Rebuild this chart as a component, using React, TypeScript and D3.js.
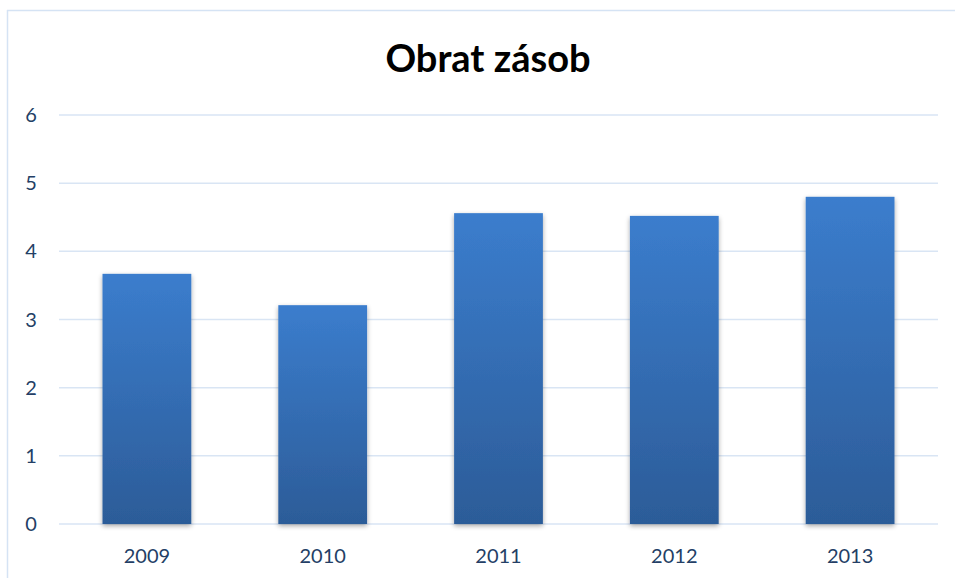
import React from "react";
import * as d3 from "d3";

const categories = ["2009", "2010", "2011", "2012", "2013"];
const values = [3.67, 3.21, 4.56, 4.52, 4.8];
const yTicks = [0, 1, 2, 3, 4, 5, 6];
const title = "Obrat zásob";

export default function App() {
  const W = 955, H = 578;
  const left = 59, right = 938, top = 115, bottom = 524;
  const x = d3.scaleBand<string>().domain(categories).range([left, right]).paddingInner(0.495).paddingOuter(0.2475);
  const y = d3.scaleLinear().domain([0, 6]).range([bottom, top]);
  const font = "Lato, 'Open Sans', sans-serif";
  return (
    <svg width={W} height={H} style={{ position: "absolute", left: 0, top: 0, background: "#fff" }}>
      <defs>
        <linearGradient id="bg" x1="0" y1="0" x2="0" y2="1">
          <stop offset="0%" stopColor="#3b7dcd" />
          <stop offset="100%" stopColor="#2c5c98" />
        </linearGradient>
        <filter id="sh" x="-20%" y="-20%" width="140%" height="140%">
          <feGaussianBlur in="SourceAlpha" stdDeviation="2.5" />
          <feOffset dx="0" dy="2" result="b" />
          <feComponentTransfer><feFuncA type="linear" slope="0.35" /></feComponentTransfer>
          <feMerge><feMergeNode /><feMergeNode in="SourceGraphic" /></feMerge>
        </filter>
      </defs>
      <line x1={7.5} y1={10} x2={7.5} y2={H} stroke="#d5e3f4" strokeWidth={1.5} />
      <line x1={7} y1={10.5} x2={W} y2={10.5} stroke="#d5e3f4" strokeWidth={1.5} />
      <text x={488} y={72} textAnchor="middle" fontFamily={font} fontWeight="bold" fontSize={38} fill="#000">{title}</text>
      {yTicks.map(t => (
        <g key={t}>
          <line x1={left} x2={right} y1={y(t)} y2={y(t)} stroke="#d9e5f4" strokeWidth={1.5} />
          <text x={31} y={y(t) + 7} textAnchor="middle" fontFamily={font} fontSize={20} fill="#243f66">{t}</text>
        </g>
      ))}
      {categories.map((c, i) => (
        <rect key={c} x={x(c)} y={y(values[i])} width={x.bandwidth()} height={bottom - y(values[i])} fill="url(#bg)" filter="url(#sh)" />
      ))}
      {categories.map(c => (
        <text key={c} x={(x(c) as number) + x.bandwidth() / 2} y={563} textAnchor="middle" fontFamily={font} fontSize={20} fill="#243f66">{c}</text>
      ))}
    </svg>
  );
}
